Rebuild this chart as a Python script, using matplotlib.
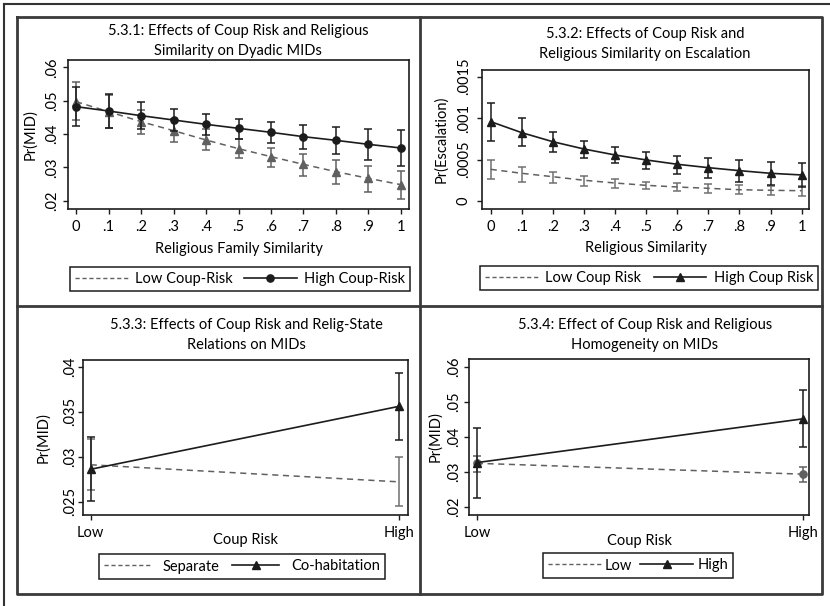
import matplotlib
matplotlib.use('Agg')
import matplotlib.pyplot as plt
from matplotlib.lines import Line2D

plt.rcParams['font.family'] = ['Lato', 'DejaVu Sans']
plt.rcParams['font.size'] = 10

# ---- data ----
sim_x = [0, .1, .2, .3, .4, .5, .6, .7, .8, .9, 1]
sim_labels = ['0', '.1', '.2', '.3', '.4', '.5', '.6', '.7', '.8', '.9', '1']

# 5.3.1 Pr(MID) by religious family similarity
mid_low = [.0497, .0467, .0437, .0410, .0382, .0356, .0332, .0309, .0287, .0267, .0248]
mid_low_lo = [.0442, .0418, .0400, .0377, .0352, .0327, .0300, .0274, .0250, .0226, .0204]
mid_low_hi = [.0556, .0516, .0472, .0446, .0415, .0384, .0359, .0340, .0322, .0304, .0289]
mid_high = [.0482, .0469, .0455, .0442, .0429, .0417, .0405, .0392, .0381, .0369, .0358]
mid_high_lo = [.0424, .0419, .0414, .0408, .0397, .0386, .0374, .0355, .0340, .0322, .0304]
mid_high_hi = [.0542, .0519, .0496, .0476, .0461, .0446, .0436, .0428, .0422, .0416, .0412]
p1_yticks = [.02, .03, .04, .05, .06]
p1_ylabels = ['.02', '.03', '.04', '.05', '.06']

# 5.3.2 Pr(Escalation) by religious similarity
esc_low = [.000382, .000334, .000293, .000250, .000217, .000189, .000169, .000153, .000136, .000129, .000124]
esc_low_lo = [.000265, .000233, .000213, .000185, .000160, .000145, .000121, .000100, .000085, .000072, .000060]
esc_low_hi = [.000491, .000414, .000353, .000305, .000265, .000233, .000221, .000201, .000193, .000185, .000185]
esc_high = [.000957, .000824, .000715, .000627, .000555, .000495, .000443, .000402, .000366, .000334, .000314]
esc_high_lo = [.000724, .000660, .000587, .000515, .000455, .000382, .000326, .000281, .000233, .000193, .000165]
esc_high_hi = [.001180, .001000, .000836, .000727, .000655, .000595, .000547, .000515, .000491, .000470, .000458]
p2_yticks = [0, .0005, .001, .0015]
p2_ylabels = ['0', '.0005', '.001', '.0015']

# 5.3.3 relig-state relations
coup_x = [0, 1]
coup_labels = ['Low', 'High']
sep = [.0291, .0272]
sep_lo = [.0263, .0245]
sep_hi = [.0320, .0300]
cohab = [.0286, .0356]
cohab_lo = [.0251, .0319]
cohab_hi = [.0322, .0393]
p3_yticks = [.025, .03, .035, .04]
p3_ylabels = ['.025', '.03', '.035', '.04']

# 5.3.4 religious homogeneity
homog_low = [.0324, .0293]
homog_low_lo = [.0300, .0270]
homog_low_hi = [.0346, .0314]
homog_high = [.0326, .0451]
homog_high_lo = [.0224, .0371]
homog_high_hi = [.0426, .0534]
p4_yticks = [.02, .03, .04, .05, .06]
p4_ylabels = ['.02', '.03', '.04', '.05', '.06']

W, H = 830, 606
BLACK = '#1c1c1c'
GRAY = '#606060'
LGRAY = '#707070'

fig = plt.figure(figsize=(W / 100, H / 100), dpi=100)


def box(l, t, r, b):
    return [l / W, 1 - b / H, (r - l) / W, (b - t) / H]


def fline(xs, ys, lw=1.5, color='#333333'):
    fig.add_artist(Line2D([x / W for x in xs], [1 - y / H for y in ys],
                          transform=fig.transFigure, lw=lw, color=color))


def errs(v, lo, hi):
    return [[a - b for a, b in zip(v, lo)], [b - a for a, b in zip(v, hi)]]


def setup(ax, pos, xl, yl, xt, xtl, yt, ytl, xlabel, ylabel, ypad, xlab_y, ylab_x, xpad=4.5):
    l, t, r, b = pos
    ax.set_xlim(*xl)
    ax.set_ylim(*yl)
    ax.set_xticks(xt, xtl)
    ax.set_yticks(yt, ytl, rotation=90, va='center')
    ax.tick_params(direction='out', length=3.6, width=1, color=BLACK, labelsize=10.5)
    ax.tick_params(axis='x', pad=xpad)
    ax.tick_params(axis='y', pad=ypad)
    for s in ax.spines.values():
        s.set_linewidth(1.2)
        s.set_color(BLACK)
    ax.set_xlabel(xlabel, fontsize=10.5, va='center')
    ax.set_ylabel(ylabel, fontsize=10.5, va='center')
    ax.xaxis.set_label_coords(0.5, (b - xlab_y) / (b - t))
    ax.yaxis.set_label_coords((ylab_x - l) / (r - l), 0.5)


def legend(handles, labels, l, t, r, b, tpad=0.5, cspace=0.6, hlen=3.6, expand=True):
    lg = fig.legend(handles, labels, loc='center', ncol=2,
                    mode='expand' if expand else None,
                    bbox_to_anchor=box(l, t, r, b), borderaxespad=0,
                    fancybox=False, edgecolor=BLACK, framealpha=1,
                    handlelength=hlen, handletextpad=tpad, columnspacing=cspace,
                    fontsize=10.5, borderpad=0.35)
    lg.get_frame().set_linewidth(1.1)


eb = dict(fmt='none', capsize=3, elinewidth=1.1, capthick=1.1)

# frames
fline([4, 830], [4, 4])
fline([4, 4], [4, 606])
fline([17, 822, 822, 17, 17], [17, 17, 594, 594, 17], lw=2, color='#3a3a3a')
fline([420, 420], [17, 594], lw=2, color='#3a3a3a')
fline([17, 822], [306, 306], lw=2, color='#3a3a3a')

# ---- 5.3.1 ----
pos1 = (68, 60, 409, 209)
ax1 = fig.add_axes(box(*pos1))
ax1.errorbar(sim_x, mid_low, yerr=errs(mid_low, mid_low_lo, mid_low_hi), ecolor=GRAY, **eb)
ax1.plot(sim_x, mid_low, color=GRAY, ls=(0, (4, 3)), lw=1.1, marker='^', ms=5.5)
ax1.errorbar(sim_x, mid_high, yerr=errs(mid_high, mid_high_lo, mid_high_hi), ecolor=BLACK, **eb)
ax1.plot(sim_x, mid_high, color=BLACK, lw=1.2, marker='o', ms=5.2)
setup(ax1, pos1, (-0.025, 1.025), (.0175, .0622), sim_x, sim_labels, p1_yticks, p1_ylabels,
      'Religious Family Similarity', 'Pr(MID)', 3.0, 249, 30)
fig.text(238 / W, 1 - 41 / H, '5.3.1: Effects of Coup Risk and Religious\nSimilarity on Dyadic MIDs',
         ha='center', va='center', linespacing=1.5, fontsize=10.5)
legend([Line2D([], [], color=GRAY, ls=(0, (3, 2)), lw=1),
        Line2D([], [], color=BLACK, lw=1.2, marker='o', ms=5.2)],
       ['Low Coup-Risk', 'High Coup-Risk'], 70, 265, 410, 293)

# ---- 5.3.2 ----
pos2 = (482, 70, 809, 209)
ax2 = fig.add_axes(box(*pos2))
ax2.errorbar(sim_x, esc_low, yerr=errs(esc_low, esc_low_lo, esc_low_hi), ecolor=LGRAY, **eb)
ax2.plot(sim_x, esc_low, color=GRAY, ls=(0, (4, 3)), lw=1.1)
ax2.errorbar(sim_x, esc_high, yerr=errs(esc_high, esc_high_lo, esc_high_hi), ecolor=BLACK, **eb)
ax2.plot(sim_x, esc_high, color=BLACK, lw=1.2, marker='^', ms=5.5)
setup(ax2, pos2, (-0.028, 1.0235), (-.0000965, .00158), sim_x, sim_labels, p2_yticks, p2_ylabels,
      'Religious Similarity', 'Pr(Escalation)', 4.5, 248, 441)
fig.text(645 / W, 1 - 44 / H, '5.3.2: Effects of Coup Risk and\nReligious Similarity on Escalation',
         ha='center', va='center', linespacing=1.5, fontsize=10.5)
legend([Line2D([], [], color=GRAY, ls=(0, (3, 2)), lw=1),
        Line2D([], [], color=BLACK, lw=1.2, marker='^', ms=5.5)],
       ['Low Coup Risk', 'High Coup Risk'], 480, 264, 818, 292)

# ---- 5.3.3 ----
pos3 = (83, 360, 408, 515)
ax3 = fig.add_axes(box(*pos3))
ax3.errorbar(coup_x, sep, yerr=errs(sep, sep_lo, sep_hi), ecolor=LGRAY, **eb)
ax3.plot(coup_x, sep, color=GRAY, ls=(0, (4, 3)), lw=1.1)
ax3.errorbar(coup_x, cohab, yerr=errs(cohab, cohab_lo, cohab_hi), ecolor=BLACK, **eb)
ax3.plot(coup_x, cohab, color=BLACK, lw=1.2, marker='^', ms=5.5)
setup(ax3, pos3, (-0.025, 1.028), (.02352, .04074), coup_x, coup_labels, p3_yticks, p3_ylabels,
      'Coup Risk', 'Pr(MID)', 0.8, 540, 43, xpad=4)
fig.text(246 / W, 1 - 335 / H, '5.3.3: Effects of Coup Risk and Relig-State\nRelations on MIDs',
         ha='center', va='center', linespacing=1.5, fontsize=10.5)
legend([Line2D([], [], color=GRAY, ls=(0, (3, 2)), lw=1),
        Line2D([], [], color=BLACK, lw=1.2, marker='^', ms=5.5)],
       ['Separate', 'Co-habitation'], 97, 553, 387, 580, tpad=0.85, cspace=0.85,
       hlen=3.2, expand=False)

# ---- 5.3.4 ----
pos4 = (469, 359, 809, 515)
ax4 = fig.add_axes(box(*pos4))
ax4.errorbar(coup_x, homog_low, yerr=errs(homog_low, homog_low_lo, homog_low_hi), ecolor=GRAY, **eb)
ax4.plot(coup_x, homog_low, color=GRAY, ls=(0, (4, 3)), lw=1.1, marker='o', ms=5.2)
ax4.errorbar(coup_x, homog_high, yerr=errs(homog_high, homog_high_lo, homog_high_hi), ecolor=BLACK, **eb)
ax4.plot(coup_x, homog_high, color=BLACK, lw=1.2, marker='^', ms=5.5)
setup(ax4, pos4, (-0.024, 1.019), (.01763, .0622), coup_x, coup_labels, p4_yticks, p4_ylabels,
      'Coup Risk', 'Pr(MID)', 2.2, 541, 435, xpad=4)
fig.text(645 / W, 1 - 335 / H, '5.3.4: Effect of Coup Risk and Religious\nHomogeneity on MIDs',
         ha='center', va='center', linespacing=1.5, fontsize=10.5)
legend([Line2D([], [], color=GRAY, ls=(0, (3, 2)), lw=1),
        Line2D([], [], color=BLACK, lw=1.2, marker='^', ms=5.5)],
       ['Low', 'High'], 543, 553, 733, 578, tpad=0.3, cspace=0.3)

fig.savefig('out.png', dpi=100)
